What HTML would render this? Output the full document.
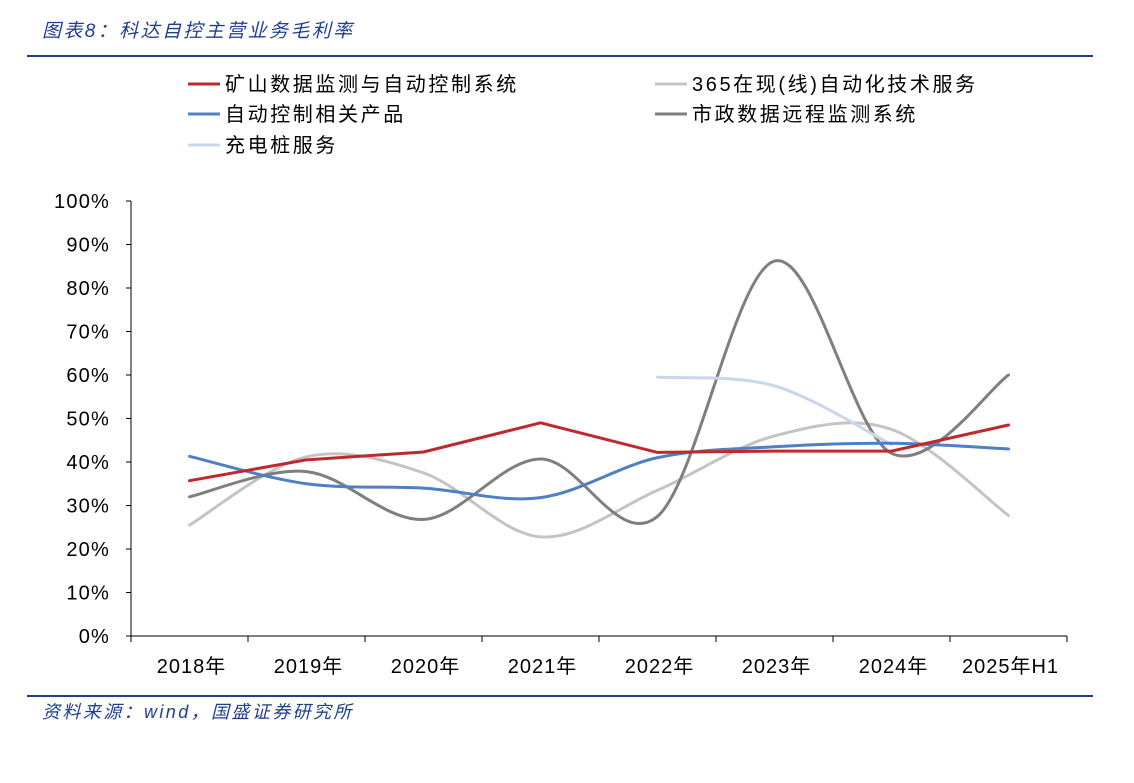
<!DOCTYPE html>
<html><head><meta charset="utf-8">
<style>
body{margin:0;background:#fff;width:1134px;height:778px;overflow:hidden;font-family:"Liberation Sans","Noto Sans CJK SC",sans-serif;}
svg text{font-family:"Liberation Sans","Noto Sans CJK SC",sans-serif;}
</style></head><body>
<svg id="chart" width="1134" height="778">
<text x="42" y="37" font-size="19" letter-spacing="2.4" font-style="italic" fill="#1f3f8f">图表8：科达自控主营业务毛利率</text>
<line x1="27" y1="56" x2="1093" y2="56" stroke="#1f3f8f" stroke-width="2"/>
<line x1="27" y1="696" x2="1093" y2="696" stroke="#1f3f8f" stroke-width="2"/>
<text x="42" y="718" font-size="18" letter-spacing="2.4" font-style="italic" fill="#1f3f8f">资料来源：wind，国盛证券研究所</text>
<g id="legend"></g>
<g id="axes"></g>
<g id="series"></g>
</svg>
<script>
const categories=["2018年","2019年","2020年","2021年","2022年","2023年","2024年","2025年H1"];
const yTicks=[0,10,20,30,40,50,60,70,80,90,100];
const mining=[35.7,40.5,42.3,49,42.2,42.5,42.5,48.5];
const svc365=[25.5,41.2,37.5,22.8,33.5,46,47.5,27.7];
const autoCtrl=[41.3,35,34,31.8,41,43.5,44.3,43];
const municipal=[32,37.8,26.8,40.7,27.5,86.2,42,60];
const charging=[null,null,null,null,59.5,57.5,44,null];
const seriesNames=["矿山数据监测与自动控制系统","365在现(线)自动化技术服务","自动控制相关产品","市政数据远程监测系统","充电桩服务"];

const NS="http://www.w3.org/2000/svg";
const X0=131,X1=1067,Y0=636,Y1=201;
const band=(X1-X0)/categories.length;
const xs=i=>X0+band*(i+0.5);
const ys=v=>Y0-(v/100)*(Y0-Y1);
function mk(tag,attrs,parent){const e=document.createElementNS(NS,tag);for(const k in attrs)e.setAttribute(k,attrs[k]);parent.appendChild(e);return e;}
const axes=document.getElementById('axes');
const ser=document.getElementById('series');
const leg=document.getElementById('legend');

let ax=mk('line',{x1:X0,y1:Y1,x2:X0,y2:Y0,stroke:'#000','stroke-width':1},axes);


let bx=mk('line',{x1:X0,y1:Y0,x2:X1,y2:Y0,stroke:'#000','stroke-width':1},axes);


yTicks.forEach(t=>{
  const y=ys(t);
  mk('line',{x1:X0-5,y1:y,x2:X0,y2:y,stroke:'#000'},axes);
  const tx=mk('text',{x:110,y:y+7,'font-size':20,'letter-spacing':1.2,'text-anchor':'end',fill:'#000'},axes);
  tx.textContent=t+'%';
  
  
});
for(let i=0;i<=categories.length;i++){mk('line',{x1:X0+band*i,y1:Y0,x2:X0+band*i,y2:Y0+6,stroke:'#000'},axes);}
categories.forEach((c,i)=>{
  const tx=mk('text',{x:xs(i)+2,y:673,'font-size':20,'letter-spacing':1,'text-anchor':'middle',fill:'#000'},axes);
  tx.textContent=c;
  
  
});

function pts(arr){const p=[];arr.forEach((v,i)=>{if(v!==null)p.push([xs(i),ys(v)]);});return p;}
function straight(p){return p.map((q,i)=>(i?'L':'M')+q[0]+','+q[1]).join(' ');}
function smooth(p){
  let d='M'+p[0][0]+','+p[0][1];
  for(let i=0;i<p.length-1;i++){
    const p0=p[i-1]||p[i],p1=p[i],p2=p[i+1],p3=p[i+2]||p2;
    const c1=[p1[0]+(p2[0]-p0[0])/6,p1[1]+(p2[1]-p0[1])/6];
    const c2=[p2[0]-(p3[0]-p1[0])/6,p2[1]-(p3[1]-p1[1])/6];
    d+=' C'+c1+' '+c2+' '+p2;
  }
  return d;
}
const defs=[
 [svc365,'#c4c4c4',true,'series-365-service'],
 [municipal,'#7f7f7f',true,'series-municipal'],
 [charging,'#c9d7ec',true,'series-charging'],
 [autoCtrl,'#4f7fc4',true,'series-auto-control'],
 [mining,'#c0282c',false,'series-mining']
];
defs.forEach(d=>{
  const p=pts(d[0]);
  const el=mk('path',{d:d[2]?smooth(p):straight(p),fill:'none',stroke:d[1],'stroke-width':3,'stroke-linejoin':'round','stroke-linecap':'round'},ser);
  
  
});
const legItems=[[0,'#c0282c',188,84],[1,'#c4c4c4',655,84],[2,'#4f7fc4',188,114],[3,'#7f7f7f',655,114],[4,'#c9d7ec',188,145]];
legItems.forEach(l=>{
  const g=mk('g',{},leg);
  
  
  mk('line',{x1:l[2],y1:l[3],x2:l[2]+32,y2:l[3],stroke:l[1],'stroke-width':3},g);
  const t=mk('text',{x:l[2]+37,y:l[3]+7,'font-size':20,'letter-spacing':2.6,fill:'#000'},g);
  t.textContent=seriesNames[l[0]];
});
</script>
</body></html>
